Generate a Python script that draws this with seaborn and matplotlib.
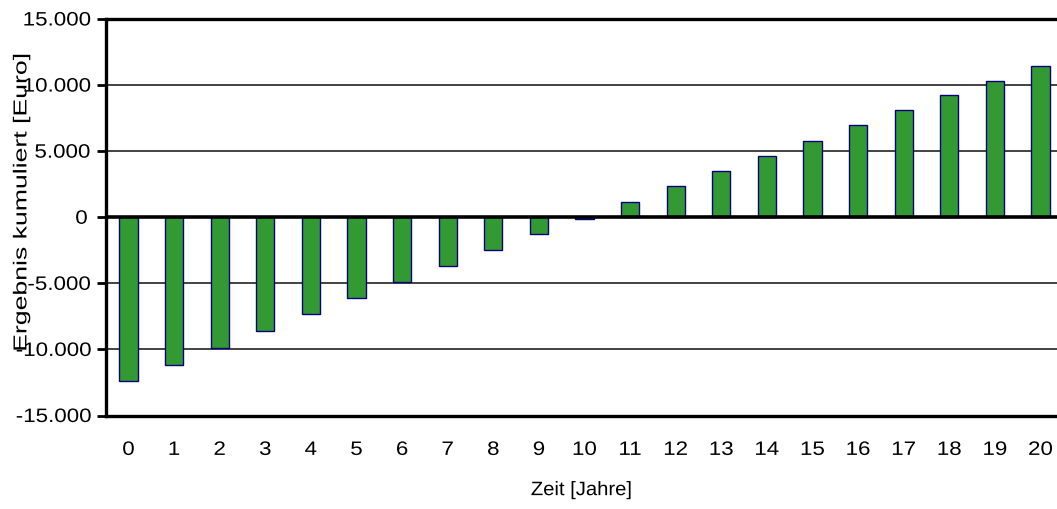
import matplotlib
matplotlib.use("Agg")
import matplotlib.pyplot as plt
import seaborn as sns
import pandas as pd
from matplotlib.patheffects import AbstractPathEffect
from matplotlib.transforms import Affine2D

# ---- data ----
years = [str(i) for i in range(21)]
ergebnis = [-12400, -11150, -9900, -8600, -7350, -6100, -4900, -3680, -2470, -1250,
            -100, 1130, 2330, 3480, 4650, 5800, 6950, 8080, 9220, 10330, 11440]
y_ticks = [-15000, -10000, -5000, 0, 5000, 10000, 15000]
y_ticklabels = ["-15.000", "-10.000", "-5.000", "0", "5.000", "10.000", "15.000"]
x_title = "Zeit [Jahre]"
y_title = "Ergebnis kumuliert [Euro]"

df = pd.DataFrame({"Jahr": years, "Ergebnis": ergebnis})


class Stretch(AbstractPathEffect):
    """Stretch text glyphs about their centre (display coords)."""
    def __init__(self, sx=1.0, sy=1.0):
        super().__init__()
        self.sx, self.sy = sx, sy

    def draw_path(self, renderer, gc, tpath, affine, rgbFace=None):
        ext = tpath.get_extents(affine)
        cx = (ext.x0 + ext.x1) / 2
        cy = (ext.y0 + ext.y1) / 2
        a = affine + Affine2D().translate(-cx, -cy).scale(self.sx, self.sy).translate(cx, cy)
        renderer.draw_path(gc, tpath, a, rgbFace)


sns.set_theme(style="white")
plt.rcParams["font.family"] = ["Liberation Sans", "DejaVu Sans"]

fig = plt.figure(figsize=(10.57, 5.10), dpi=100)
ax = fig.add_axes([0.1000, 0.1833, 0.9060, 0.7775])

sns.barplot(data=df, x="Jahr", y="Ergebnis", color="#339933", saturation=1,
            width=0.4, edgecolor="#000080", linewidth=1.0, ax=ax, zorder=3)

ax.set_ylim(-15000, 15000)
ax.set_xlim(-0.5, 20.5)
ax.set_yticks(y_ticks)
ax.set_yticklabels(y_ticklabels)

# grid lines
for v in [-10000, -5000, 5000, 10000]:
    ax.axhline(v, color="#222222", lw=1.2, zorder=1)
ax.axhline(0, color="black", lw=2.6, zorder=4)

for side in ["left", "top", "bottom"]:
    ax.spines[side].set_visible(True)
    ax.spines[side].set_color("black")
    ax.spines[side].set_linewidth(2.4)
ax.spines["right"].set_visible(False)

ax.tick_params(axis="y", which="both", left=True, length=6.5, width=2, color="black",
               pad=7, labelsize=14, labelcolor="black")
ax.tick_params(axis="x", which="both", bottom=False, length=0, pad=19,
               labelsize=14, labelcolor="black")
for lbl in ax.get_yticklabels() + ax.get_xticklabels():
    lbl.set_path_effects([Stretch(1.15, 1.0)])

ax.set_xlabel(x_title, fontsize=14, color="black")
ax.xaxis.set_label_coords(0.497, -0.168)
ax.xaxis.label.set_va("top")
ax.xaxis.label.set_path_effects([Stretch(1.04, 1.0)])

ax.set_ylabel(y_title, fontsize=13.5, color="black")
ax.yaxis.set_label_coords(-0.0875, 0.537)
ax.yaxis.label.set_va("center")
ax.yaxis.label.set_ha("center")
ax.yaxis.label.set_rotation_mode("default")
ax.yaxis.label.set_path_effects([Stretch(1.0, 1.42)])

fig.savefig("out.png", dpi=100, facecolor="white")
